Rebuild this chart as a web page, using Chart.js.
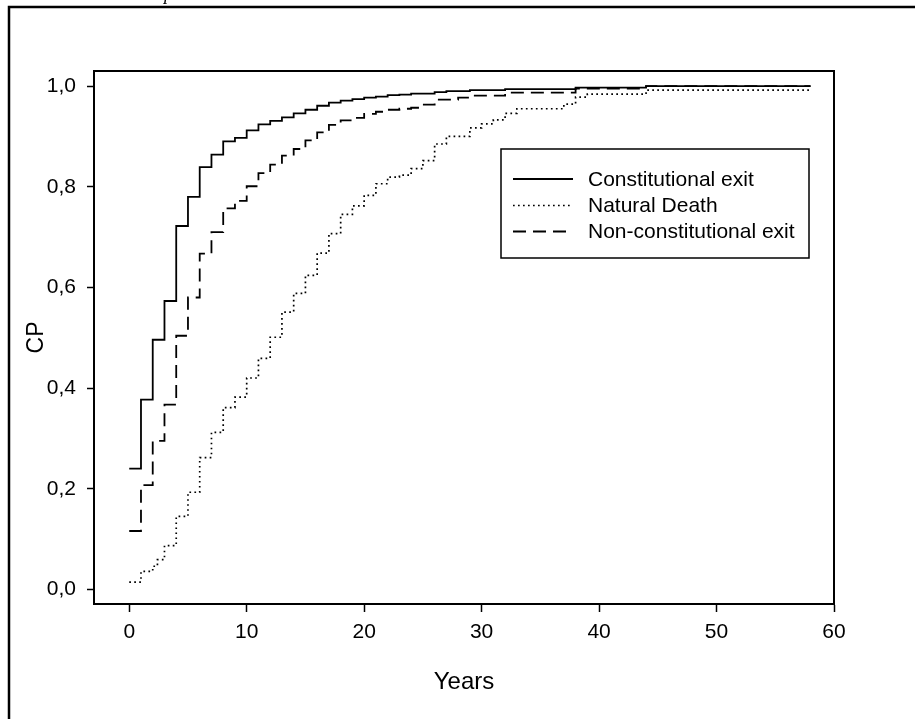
<!DOCTYPE html>
<html>
<head>
<meta charset="utf-8">
<script src="https://cdn.jsdelivr.net/npm/chart.js@4.4.1/dist/chart.umd.min.js"></script>
<style>
  html, body { margin: 0; padding: 0; background: #fff; }
  #wrap { width: 915px; height: 719px; }
</style>
</head>
<body>
<div id="wrap"><canvas id="chart" width="915" height="719"></canvas></div>
<script>
// cumulative probability curves, step at each year
const constYears = [0,1,2,3,4,5,6,7,8,9,10,11,12,13,14,15,16,17,18,19,20,21,22,23,24,26,27,29,32,38,44,58];
const constValues = [0.240,0.377,0.496,0.573,0.722,0.780,0.839,0.864,0.890,0.897,0.912,0.924,0.931,0.938,0.946,0.953,0.961,0.967,0.971,0.974,0.977,0.979,0.982,0.983,0.985,0.988,0.990,0.992,0.994,0.997,1.000,1.000];

const deathYears = [0,1,2,2.4,3,4,5,6,7,8,9,10,11,12,13,14,15,16,17,18,19,20,21,22,23,24,25,26,27,29,30,31,32,33,37,38,39,44,58];
const deathValues = [0.0145,0.036,0.046,0.059,0.087,0.145,0.193,0.262,0.312,0.361,0.382,0.420,0.459,0.501,0.551,0.588,0.624,0.668,0.707,0.745,0.762,0.783,0.806,0.819,0.823,0.836,0.852,0.885,0.900,0.917,0.925,0.933,0.946,0.955,0.964,0.978,0.984,0.992,0.992];

const nonConstYears = [0,1,2,3,4,5,6,7,8,9,10,11,12,13,14,15,16,17,18,19,20,21,22,23,24,25,26,28,29,32,38,44,58];
const nonConstValues = [0.116,0.207,0.295,0.367,0.504,0.580,0.667,0.710,0.757,0.772,0.801,0.827,0.844,0.862,0.875,0.892,0.908,0.923,0.932,0.937,0.945,0.949,0.953,0.955,0.957,0.963,0.973,0.977,0.981,0.987,0.995,1.000,1.000];

const seriesLabels = ['Constitutional exit', 'Natural Death', 'Non-constitutional exit'];
const xTicks = [0,10,20,30,40,50,60];
const yTicks = [0,0.2,0.4,0.6,0.8,1.0];

const toPoints = (xs, ys) => xs.map((x, i) => ({ x: x, y: ys[i] }));

const FONT = "'Liberation Sans', Arial, sans-serif";

// plot frame, outer frame and the boxed legend
const framePlugin = {
  id: 'frame',
  afterDraw(chart) {
    const ctx = chart.ctx;
    const a = chart.chartArea;
    ctx.save();
    ctx.strokeStyle = '#000';
    ctx.lineWidth = 2;
    ctx.beginPath();
    ctx.moveTo(a.left, a.top);
    ctx.lineTo(a.right, a.top);
    ctx.lineTo(a.right, a.bottom);
    ctx.stroke();

    // outer frame (cropped figure border)
    ctx.lineWidth = 2.5;
    ctx.beginPath();
    ctx.moveTo(9, 719);
    ctx.lineTo(9, 7);
    ctx.lineTo(915, 7);
    ctx.stroke();

    // cut-off caption text
    ctx.fillStyle = '#000';
    ctx.font = "italic 18px 'Liberation Serif', serif";
    ctx.textBaseline = 'alphabetic';
    ctx.fillText('p', 164, 0);

    // legend
    ctx.lineWidth = 1.5;
    ctx.strokeRect(501, 149, 308, 109);
    const rows = [179, 205.5, 231.5];
    ctx.font = '21px ' + FONT;
    ctx.textBaseline = 'middle';
    chart.data.datasets.forEach((ds, r) => {
      ctx.setLineDash(ds.borderDash || []);
      ctx.lineWidth = ds.borderWidth;
      ctx.beginPath();
      ctx.moveTo(513, rows[r]);
      ctx.lineTo(573, rows[r]);
      ctx.stroke();
      ctx.setLineDash([]);
      ctx.fillText(ds.label, 588, rows[r] + 1);
    });
    ctx.restore();
  }
};

new Chart(document.getElementById('chart'), {
  type: 'line',
  data: {
    datasets: [{
      label: seriesLabels[0],
      data: toPoints(constYears, constValues),
      borderColor: '#000',
      borderWidth: 1.8,
      stepped: true,
      pointRadius: 0,
      fill: false
    }, {
      label: seriesLabels[1],
      data: toPoints(deathYears, deathValues),
      borderColor: '#000',
      borderWidth: 1.7,
      borderDash: [1.7, 3.3],
      stepped: true,
      pointRadius: 0,
      fill: false
    }, {
      label: seriesLabels[2],
      data: toPoints(nonConstYears, nonConstValues),
      borderColor: '#000',
      borderWidth: 1.8,
      borderDash: [13, 7],
      stepped: true,
      pointRadius: 0,
      fill: false
    }]
  },
  options: {
    responsive: false,
    animation: false,
    devicePixelRatio: 1,
    layout: { padding: { left: 0, top: 71, right: 81, bottom: 0 } },
    plugins: {
      legend: { display: false },
      title: { display: false },
      tooltip: { enabled: false }
    },
    scales: {
      x: {
        type: 'linear',
        min: -3,
        max: 60,
        afterBuildTicks: (scale) => { scale.ticks = xTicks.map(v => ({ value: v })); },
        afterFit: (scale) => { scale.height = 115; },
        grid: { drawOnChartArea: false, drawTicks: true, tickLength: 8, tickColor: '#000', tickWidth: 1.5 },
        border: { display: true, color: '#000', width: 2 },
        ticks: { color: '#000', font: { family: FONT, size: 21 }, padding: 8, maxRotation: 0 },
        title: { display: true, text: 'Years', color: '#000', font: { family: FONT, size: 24 }, padding: { top: 0, bottom: 22 } }
      },
      y: {
        type: 'linear',
        min: -0.029,
        max: 1.03,
        afterBuildTicks: (scale) => { scale.ticks = yTicks.map(v => ({ value: v })); },
        afterFit: (scale) => { scale.width = 94; },
        grid: { drawOnChartArea: false, drawTicks: true, tickLength: 7, tickColor: '#000', tickWidth: 1.5 },
        border: { display: true, color: '#000', width: 2 },
        ticks: {
          color: '#000',
          font: { family: FONT, size: 21 },
          padding: 11,
          callback: (v) => v.toFixed(1).replace('.', ',')
        },
        title: { display: true, text: 'CP', color: '#000', font: { family: FONT, size: 23 }, padding: { top: 23, bottom: 0 } }
      }
    }
  },
  plugins: [framePlugin]
});
</script>
</body>
</html>
